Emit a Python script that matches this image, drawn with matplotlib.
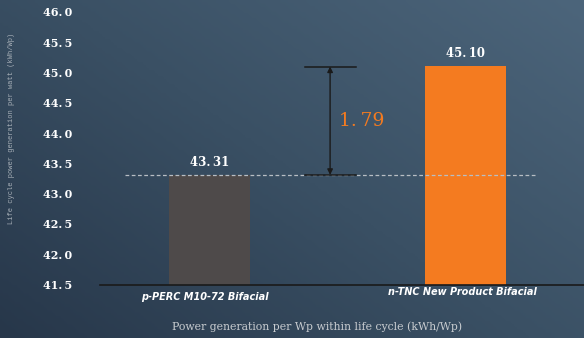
import numpy as np
import matplotlib.pyplot as plt
from matplotlib.colors import LinearSegmentedColormap

categories = ['p-PERC M10-72 Bifacial', 'n-TNC New Product Bifacial']
values = [43.31, 45.10]
bar_colors = ['#4e4a4a', '#f47b20']
yticks = [41.5, 42.0, 42.5, 43.0, 43.5, 44.0, 44.5, 45.0, 45.5, 46.0]
diff = values[1] - values[0]

fig = plt.figure(figsize=(5.84, 3.38), dpi=100)

# gradient background
bg = fig.add_axes([0, 0, 1, 1])
xx, yy = np.meshgrid(np.linspace(0, 1, 200), np.linspace(0, 1, 120))
grad = 0.55 * xx + 0.45 * yy
cmap = LinearSegmentedColormap.from_list('bg', ['#27374a', '#3a5064', '#4c657b'])
bg.imshow(grad, cmap=cmap, origin='lower', aspect='auto', extent=[0, 1, 0, 1])
bg.axis('off')

ax = fig.add_axes([100 / 584, (338 - 284.5) / 338, 484 / 584, 272.5 / 338])
ax.patch.set_alpha(0)
x = np.arange(len(values))
ax.bar(x, [v - 41.5 for v in values], width=0.316, bottom=41.5, color=bar_colors, zorder=2)
ax.set_ylim(41.5, 46.0)
ax.set_xlim(-0.428, 1.463)

for s in ['top', 'right', 'left']:
    ax.spines[s].set_visible(False)
ax.spines['bottom'].set_color('#1a1a1a')
ax.spines['bottom'].set_linewidth(1.2)

ax.set_yticks(yticks)
ax.set_yticklabels([f'{t:.1f}'.replace('.', '.\u2009') for t in yticks],
                   family='DejaVu Serif', fontweight='bold', fontsize=8, color='white')
ax.tick_params(axis='y', length=0, pad=20)
ax.set_xticks([])

# category labels
ax.text(x[0] - 0.02, 41.29, categories[0], ha='center', va='center', color='white',
        fontsize=7, style='italic', fontweight='bold', family='DejaVu Sans')
ax.text(x[1] - 0.01, 41.37, categories[1], ha='center', va='center', color='white',
        fontsize=7, style='italic', fontweight='bold', family='DejaVu Sans')

# value labels
for xi, v in zip(x, values):
    ax.text(xi, v + 0.1, f'{v:.2f}'.replace('.', '.\u2009'), ha='center', va='bottom',
            color='white', fontsize=8.5, fontweight='bold', family='DejaVu Serif')

# reference dashed line
ax.plot([-0.33, 1.279], [values[0], values[0]], ls=(0, (3, 2)), color='#b8bec4', lw=0.9, zorder=3)

# difference annotation
xa = 0.471
ax.plot([0.373, 0.572], [values[0], values[0]], color='#1a1a1a', lw=1.1, zorder=4)
ax.plot([0.373, 0.572], [values[1], values[1]], color='#1a1a1a', lw=1.1, zorder=4)
ax.annotate('', xy=(xa, values[1]), xytext=(xa, values[0]),
            arrowprops=dict(arrowstyle='<|-|>', color='#1a1a1a', lw=1, mutation_scale=8,
                            shrinkA=0, shrinkB=0), zorder=4)
ax.text(0.505, (values[0] + values[1]) / 2, f'{diff:.2f}'.replace('.', '.\u2009'), ha='left',
        va='center', color='#f47b20', fontsize=13.5, family='DejaVu Serif')

fig.text(317 / 584, 1 - 327 / 338, 'Power generation per Wp within life cycle (kWh/Wp)',
         ha='center', va='center', color='#c8ccd0', fontsize=7.8, family='DejaVu Serif')
fig.text(12 / 584, 1 - 128 / 338, 'Life cycle power generation per watt (kWh/Wp)',
         ha='center', va='center', rotation=90, color='#a8b0b8', fontsize=5, family='Liberation Mono')

fig.savefig('out.png', dpi=100)
